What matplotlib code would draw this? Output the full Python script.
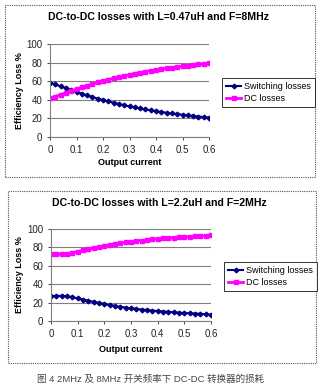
import matplotlib
matplotlib.use("Agg")
import matplotlib.pyplot as plt
from matplotlib.patches import Rectangle

plt.rcParams['font.family'] = ['Liberation Sans', 'Noto Sans CJK SC', 'DejaVu Sans']

current = [0.00, 0.02, 0.04, 0.06, 0.08, 0.10, 0.12, 0.14, 0.16, 0.18, 0.20,
           0.22, 0.24, 0.26, 0.28, 0.30, 0.32, 0.34, 0.36, 0.38, 0.40,
           0.42, 0.44, 0.46, 0.48, 0.50, 0.52, 0.54, 0.56, 0.58, 0.60]

sw_8mhz = [58.5, 56.5, 54.5, 52.5, 50.5, 48.5, 46.6, 44.8, 43.0, 41.3, 39.7,
           38.2, 36.8, 35.4, 34.1, 32.9, 31.8, 30.7, 29.7, 28.7, 27.8,
           26.9, 26.1, 25.3, 24.6, 23.9, 23.2, 22.6, 22.0, 21.4, 20.8]
dc_8mhz = [41.5, 43.5, 45.5, 47.5, 49.5, 51.5, 53.4, 55.2, 57.0, 58.7, 60.3,
           61.8, 63.2, 64.6, 65.9, 67.1, 68.2, 69.3, 70.3, 71.3, 72.2,
           73.1, 73.9, 74.7, 75.4, 76.1, 76.8, 77.4, 78.0, 78.6, 79.2]

sw_2mhz = [27.0, 27.3, 27.3, 27.0, 25.8, 24.6, 23.3, 22.0, 20.8, 19.6, 18.5,
           17.4, 16.4, 15.5, 14.6, 13.8, 13.1, 12.5, 11.9, 11.3, 10.8,
           10.3, 9.9, 9.5, 9.1, 8.7, 8.4, 8.1, 7.8, 7.4, 7.0]
dc_2mhz = [73.0, 72.7, 72.7, 73.0, 74.2, 75.4, 76.7, 78.0, 79.2, 80.4, 81.5,
           82.6, 83.6, 84.5, 85.4, 86.2, 86.9, 87.5, 88.1, 88.7, 89.2,
           89.7, 90.1, 90.5, 90.9, 91.3, 91.6, 91.9, 92.2, 92.6, 93.0]

titles = ["DC-to-DC losses with L=0.47uH and F=8MHz",
          "DC-to-DC losses with L=2.2uH and F=2MHz"]
series_names = ["Switching losses", "DC losses"]
xticks = [0, 0.1, 0.2, 0.3, 0.4, 0.5, 0.6]
xtick_labels = ["0", "0.1", "0.2", "0.3", "0.4", "0.5", "0.6"]
yticks = [0, 20, 40, 60, 80, 100]
caption = "图 4 2MHz 及 8MHz 开关频率下 DC-DC 转换器的损耗"

W, H = 323, 387
fig = plt.figure(figsize=(W / 100, H / 100), dpi=100)
fig.patch.set_facecolor("white")

def fx(px):
    return px / W

def fy(py):
    return 1 - py / H

panels = [
    dict(ax=(50, 209, 44, 137), box=(5, 315, 5, 177), title_y=17, ylab_x=20,
         xlab_y=163, leg=(222, 78), sw=sw_8mhz, dc=dc_8mhz, title=titles[0]),
    dict(ax=(51, 211, 229, 321), box=(8, 316, 191, 363), title_y=203, ylab_x=20,
         xlab_y=349, leg=(224, 262), sw=sw_2mhz, dc=dc_2mhz, title=titles[1]),
]

for p in panels:
    x0, x1, y0, y1 = p["ax"]
    ax = fig.add_axes([fx(x0), fy(y1), fx(x1 - x0), (y1 - y0) / H])
    bx0, bx1, by0, by1 = p["box"]
    fig.patches.append(Rectangle((fx(bx0), fy(by1)), fx(bx1 - bx0), (by1 - by0) / H,
                                 transform=fig.transFigure, fill=False,
                                 edgecolor="#555555", linestyle=(0, (1, 1)), linewidth=0.8))
    l1, = ax.plot(current, p["sw"], color="#000080", marker="D", markersize=2.4,
                  linewidth=1.5, label=series_names[0])
    l2, = ax.plot(current, p["dc"], color="#FF00FF", marker="s", markersize=2.8,
                  linewidth=2.0, label=series_names[1])
    ax.set_xlim(0, 0.6)
    ax.set_ylim(0, 100)
    ax.set_xticks(xticks)
    ax.set_xticklabels(xtick_labels)
    ax.set_yticks(yticks)
    ax.tick_params(labelsize=7, length=2.5, width=0.6, colors="#222222", pad=3)
    ax.yaxis.grid(True, color="#808080", linewidth=0.8)
    ax.set_axisbelow(True)
    for s in ["top", "right"]:
        ax.spines[s].set_visible(False)
    for s in ["left", "bottom"]:
        ax.spines[s].set_color("#808080")
        ax.spines[s].set_linewidth(0.8)
    fig.text(fx((x0 + 268) / 2), fy(p["title_y"]), p["title"], ha="center", va="center",
             fontsize=7.6, fontweight="bold")
    fig.text(fx(p["ylab_x"]), fy((y0 + y1) / 2), "Efficiency Loss %", rotation=90,
             ha="center", va="center", fontsize=6.5, fontweight="bold")
    fig.text(fx((x0 + x1) / 2), fy(p["xlab_y"]), "Output current", ha="center",
             va="center", fontsize=6.5, fontweight="bold")
    lx, ly = p["leg"]
    leg = fig.legend(handles=[l1, l2], loc="upper left",
                     bbox_to_anchor=(fx(lx), fy(ly)), bbox_transform=fig.transFigure,
                     fontsize=6.5, frameon=True, fancybox=False, handlelength=1.7,
                     borderpad=0.45, labelspacing=0.35, handletextpad=0.3,
                     borderaxespad=0)
    leg.get_frame().set_edgecolor("black")
    leg.get_frame().set_linewidth(0.7)

fig.text(fx(151), fy(379), caption, ha="center", va="center", fontsize=6.8, color="#444444")

fig.savefig("out.png", dpi=100, facecolor="white")
